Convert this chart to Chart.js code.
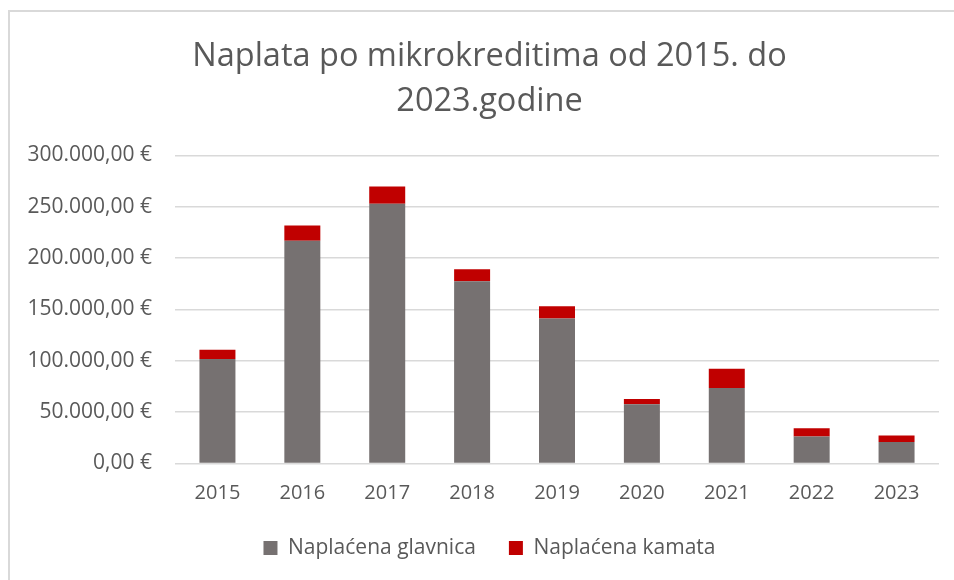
<!DOCTYPE html>
<html>
<head>
<meta charset="utf-8">
<script src="https://cdn.jsdelivr.net/npm/chart.js@4"></script>
<style>
  html, body { margin: 0; padding: 0; background: #fff; }
  #wrap { width: 954px; height: 580px; position: relative; }
</style>
</head>
<body>
<div id="wrap"><canvas id="chart" width="954" height="580"></canvas></div>
<script>
const years = ['2015', '2016', '2017', '2018', '2019', '2020', '2021', '2022', '2023'];
const glavnica = [101650, 216900, 252800, 177400, 141150, 57800, 73400, 26300, 21050];
const kamata = [9000, 14850, 16800, 11600, 12000, 4900, 18800, 8100, 6250];
const titleLines = ['Naplata po mikrokreditima od 2015. do', '2023.godine'];

const textColor = '#595959';
const gridColor = '#D9D9D9';

// euro format like 250.000,00 €
function euro(v) {
  const s = Math.round(v).toString().replace(/\B(?=(\d{3})+(?!\d))/g, '.');
  return s + ',00 €';
}

// light frame round the chart (left and top edges only visible)
const framePlugin = {
  id: 'frame',
  beforeDraw(chart) {
    const ctx = chart.ctx;
    ctx.save();
    ctx.strokeStyle = gridColor;
    ctx.lineWidth = 2;
    ctx.beginPath();
    ctx.moveTo(9, 580);
    ctx.lineTo(9, 11);
    ctx.lineTo(954, 11);
    ctx.stroke();
    ctx.restore();
  }
};

// title and legend sit a bit right of the canvas centre in the original
const shiftPlugin = {
  id: 'shift',
  afterLayout(chart) {
    const dx = 10;
    [chart.titleBlock, chart.legend].forEach(b => {
      if (!b) return;
      b.left += dx;
      b.right += dx;
    });
  }
};

new Chart(document.getElementById('chart'), {
  type: 'bar',
  data: {
    labels: years,
    datasets: [
      { label: 'Naplaćena glavnica', data: glavnica, backgroundColor: '#767171' },
      { label: 'Naplaćena kamata', data: kamata, backgroundColor: '#C00000' }
    ]
  },
  options: {
    responsive: false,
    animation: false,
    layout: { padding: { left: 20, right: 15, top: 12, bottom: 11.5 } },
    datasets: { bar: { categoryPercentage: 1, barPercentage: 0.424 } },
    plugins: {
      title: {
        display: true,
        text: titleLines,
        color: textColor,
        font: { family: 'Open Sans', size: 32.5, weight: 'normal', lineHeight: 1.39 },
        padding: { top: 22, bottom: 31 }
      },
      legend: {
        position: 'bottom',
        labels: {
          color: textColor,
          font: { family: 'Open Sans', size: 21 },
          boxWidth: 14,
          boxHeight: 14,
          padding: 33
        }
      },
      tooltip: { enabled: false }
    },
    scales: {
      x: {
        stacked: true,
        grid: { display: false, drawTicks: false },
        border: { display: false },
        ticks: { color: textColor, font: { family: 'Open Sans', size: 20 }, padding: 18 },
        afterFit(scale) { scale.height = 41; }
      },
      y: {
        stacked: true,
        min: 0,
        max: 300000,
        grid: { color: gridColor, lineWidth: 1.5, drawTicks: false },
        border: { display: false },
        ticks: {
          stepSize: 50000,
          color: textColor,
          font: { family: 'Open Sans', size: 21 },
          padding: 23,
          callback: v => euro(v)
        },
        afterFit(scale) { scale.width = 155; }
      }
    }
  },
  plugins: [framePlugin, shiftPlugin]
});
</script>
</body>
</html>
